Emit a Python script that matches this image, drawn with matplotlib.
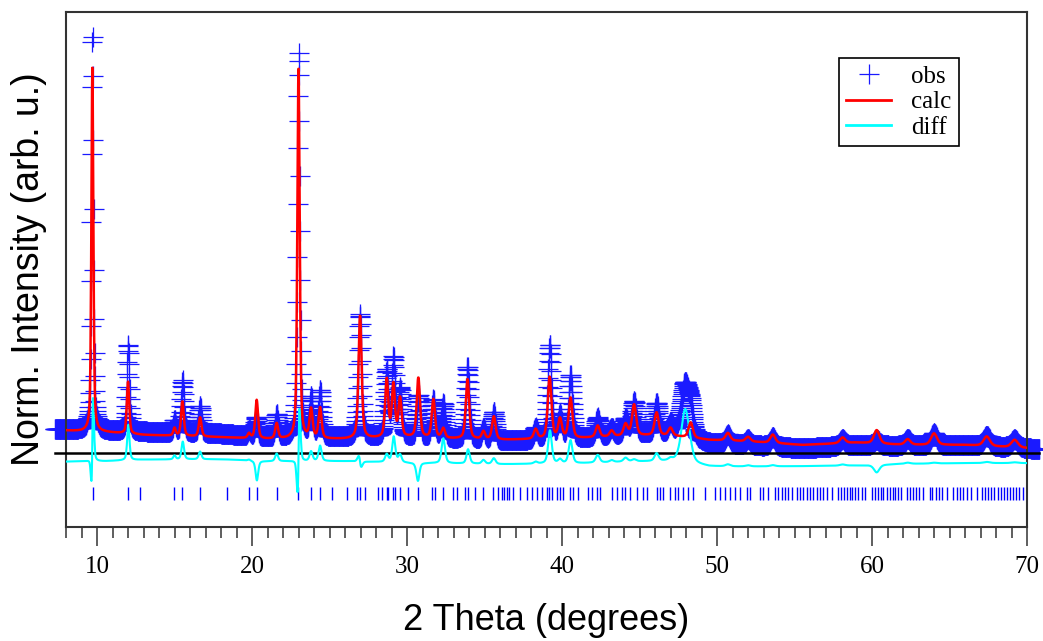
import numpy as np
import matplotlib
matplotlib.use("Agg")
import matplotlib.pyplot as plt
from matplotlib.lines import Line2D

# background anchors (2theta, normalised intensity)
bg_pos = [7.3, 9.0, 10.5, 13.0, 18.0, 21.0, 26.0, 30.0, 36.0, 41.0, 44.5, 47.0, 49.5, 52.0, 55.5, 59.0, 62.0, 66.0, 69.8, 70.8]
bg_calc = [0.060, 0.056, 0.054, 0.047, 0.041, 0.036, 0.036, 0.040, 0.034, 0.038, 0.045, 0.045, 0.034, 0.030, 0.021, 0.027, 0.021, 0.021, 0.013, 0.012]
bg_obs = [0.062, 0.060, 0.058, 0.055, 0.050, 0.040, 0.040, 0.040, 0.030, 0.036, 0.048, 0.048, 0.024, 0.020, 0.012, 0.020, 0.018, 0.020, 0.012, 0.010]

# reflections: position, calc height, obs height, fwhm, obs shift
peak_pos = [9.70, 12.00, 15.00, 15.51, 16.65, 19.81, 20.30, 21.59, 23.00, 23.81, 24.39, 26.97,
            28.69, 29.12, 29.55, 30.73, 31.70, 32.34, 33.90, 34.93, 35.60, 38.30, 39.20, 39.87,
            40.55, 42.30, 43.20, 44.10, 44.65, 46.10, 47.00, 47.95, 48.30, 50.70, 52.00, 53.60,
            58.10, 60.30, 62.30, 64.00, 67.40, 69.20]
peak_calc = [0.945, 0.135, 0.020, 0.090, 0.050, 0.012, 0.100, 0.040, 0.960, 0.075, 0.080, 0.320,
             0.150, 0.135, 0.100, 0.155, 0.100, 0.025, 0.155, 0.020, 0.060, 0.025, 0.160, 0.050,
             0.105, 0.030, 0.015, 0.030, 0.080, 0.060, 0.020, 0.000, 0.040, 0.020, 0.012, 0.022,
             0.015, 0.035, 0.015, 0.030, 0.025, 0.020]
peak_obs = [1.030, 0.225, 0.030, 0.135, 0.070, 0.015, 0.050, 0.060, 1.000, 0.100, 0.120, 0.320,
            0.170, 0.200, 0.120, 0.110, 0.100, 0.090, 0.190, 0.030, 0.075, 0.030, 0.245, 0.060,
            0.165, 0.050, 0.020, 0.040, 0.085, 0.080, 0.025, 0.140, 0.050, 0.025, 0.015, 0.025,
            0.018, 0.015, 0.018, 0.032, 0.028, 0.022]
peak_fwhm = [0.15, 0.18, 0.18, 0.20, 0.21, 0.21, 0.21, 0.22, 0.18, 0.23, 0.23, 0.24,
             0.24, 0.24, 0.24, 0.25, 0.25, 0.26, 0.26, 0.26, 0.27, 0.28, 0.28, 0.28,
             0.28, 0.30, 0.30, 0.31, 0.31, 0.31, 0.32, 0.60, 0.33, 0.36, 0.36, 0.38,
             0.40, 0.42, 0.42, 0.45, 0.48, 0.50]
peak_shift = [0.012, 0.008, 0.0, 0.008, 0.0, 0.0, -0.015, 0.0, 0.015, 0.0, 0.0, -0.008,
              0.0, 0.008, 0.0, 0.012, 0.0, 0.0, 0.008, 0.0, 0.0, 0.0, 0.008, 0.0,
              0.0, 0.0, 0.0, 0.0, 0.0, 0.0, 0.0, 0.0, 0.0, 0.0, 0.0, 0.0,
              0.0, 0.0, 0.0, 0.0, 0.0, 0.0]

# tick marks of the reflection positions
hkl_pos = [9.72, 12.02, 12.77, 14.99, 15.51, 16.65, 18.37, 19.81, 20.30, 21.59, 22.99, 23.81, 24.39,
           25.14, 26.11, 26.75, 26.97, 27.29, 28.15, 28.37, 28.69, 28.80, 29.12, 29.23, 29.55, 30.09,
           30.73, 31.59, 31.81, 32.34, 32.99, 33.20, 33.74, 33.96, 34.39, 34.93, 35.57, 35.89, 36.11,
           36.26, 36.43, 36.60, 36.86, 37.29, 37.72, 38.04, 38.37, 38.69, 39.01, 39.16, 39.33, 39.66,
           39.87, 40.08, 40.52, 40.73, 41.05, 41.70, 41.91, 42.24, 42.45, 43.21, 43.53, 43.85, 44.06,
           44.39, 44.82, 45.25, 45.46, 46.11, 46.32, 46.53, 46.97, 47.29, 47.50, 47.83, 48.15, 48.47,
           49.23, 49.87, 50.19, 50.52, 50.84, 51.16, 51.48, 51.91, 52.13, 52.77, 52.99, 53.31, 53.74,
           53.96, 54.17, 54.39, 54.60, 54.82, 55.14, 55.35, 55.57, 55.78, 56.00, 56.21, 56.43, 56.65,
           56.86, 57.08, 57.40, 57.83, 58.00, 58.20, 58.40, 58.55, 58.70, 58.90, 59.12, 59.33, 59.55,
           59.98, 60.20, 60.40, 60.55, 60.73, 60.95, 61.15, 61.35, 61.50, 61.70, 61.90, 62.24, 62.45,
           62.65, 62.85, 63.05, 63.30, 63.74, 63.90, 64.10, 64.30, 64.50, 64.82, 65.25, 65.45, 65.70,
           65.90, 66.10, 66.40, 66.80, 67.10, 67.30, 67.50, 67.70, 67.90, 68.10, 68.30, 68.50, 68.70,
           68.90, 69.10, 69.30, 69.50, 69.75]

DIFF_OFFSET = -0.025


def pseudo_voigt(x, x0, h, w, eta=0.5):
    d = (x - x0) / (w / 2.0)
    return h * (eta / (1 + d ** 2) + (1 - eta) * np.exp(-np.log(2) * d ** 2))


tth = np.arange(7.3, 70.8, 0.02)
calc = np.interp(tth, bg_pos, bg_calc)
obs = np.interp(tth, bg_pos, bg_obs)
for p, hc, ho, w, s in zip(peak_pos, peak_calc, peak_obs, peak_fwhm, peak_shift):
    calc += pseudo_voigt(tth, p, hc, w)
    obs += pseudo_voigt(tth, p + s, ho, w)
diff = obs - calc + DIFF_OFFSET

fig = plt.figure(figsize=(10.43, 6.41), dpi=100)
ax = fig.add_axes([0.0633, 0.1778, 0.9214, 0.8035])

ax.plot(tth, obs, linestyle="none", marker="+", markersize=14, markeredgewidth=0.9,
        color="#1a1aff", clip_on=False, zorder=2)
ax.plot([7.3, 70.8], [0, 0], color="black", lw=1.8, clip_on=False, zorder=3)
ax.plot(tth, diff, color="#00ffff", lw=1.5, zorder=4)
ax.plot(tth, calc, color="red", lw=1.8, zorder=5)
ax.vlines(hkl_pos, -0.122, -0.088, color="blue", lw=1.0, zorder=3)

ax.set_xlim(8, 70)
ax.set_ylim(-0.192, 1.145)
ax.set_yticks([])
ax.set_xticks(np.arange(10, 71, 10))
ax.set_xticks(np.arange(8, 71, 1), minor=True)
ax.tick_params(axis="x", which="major", direction="out", length=14, width=1.1,
               color="#333333", pad=7, labelsize=18)
ax.tick_params(axis="x", which="minor", direction="out", length=8, width=1.1, color="#333333")
for lab in ax.get_xticklabels():
    lab.set_fontfamily("Liberation Serif")
for sp in ax.spines.values():
    sp.set_color("#333333")
    sp.set_linewidth(1.5)

ax.set_xlabel("2 Theta (degrees)", fontsize=26, family="Liberation Sans", labelpad=18)
ax.set_ylabel("Norm. Intensity (arb. u.)", fontsize=27, family="Liberation Sans", labelpad=14)

handles = [Line2D([], [], linestyle="none", marker="+", markersize=15, markeredgewidth=0.9, color="#1a1aff"),
           Line2D([], [], color="red", lw=2),
           Line2D([], [], color="#00ffff", lw=2)]
leg = ax.legend(handles, ["obs", "calc", "diff"], loc="upper right", bbox_to_anchor=(0.929, 0.911),
                prop={"family": "Liberation Serif", "size": 18}, frameon=True, fancybox=False,
                edgecolor="black", framealpha=1, handlelength=1.8, labelspacing=0.12,
                borderpad=0.3, handletextpad=0.8, borderaxespad=0)
leg.get_frame().set_linewidth(1.2)

fig.savefig("out.png", dpi=100)
